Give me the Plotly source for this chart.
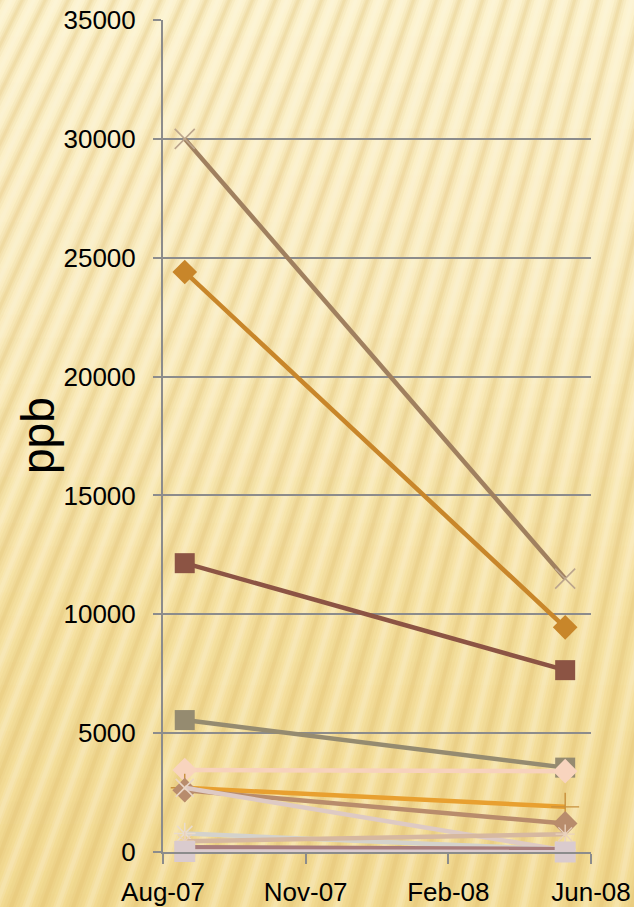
import plotly.graph_objects as go

# Sampling dates and concentrations (ppb)
dates = ["2007-08-17", "2008-05-23"]

s1 = [30000, 11500]
s2 = [24400, 9450]
s3 = [12150, 7650]
s4 = [5550, 3550]
s5 = [3450, 3400]
s6 = [2700, 1900]
s7 = [2600, 1200]
s8 = [2700, 60]
s9 = [780, 100]
s10 = [450, 750]
s11 = [200, 120]
s12 = [20, 0]

tick_dates = ["2007-08-01", "2007-11-14", "2008-02-27", "2008-06-11"]
y_ticks = [0, 5000, 10000, 15000, 20000, 25000, 30000, 35000]

W, H = 634, 907
ML, MR, MT, MB = 163, 43, 20, 55
PW, PH = W - ML - MR, H - MT - MB

series = [
    dict(y=s1, color="#A0805F", symbol="x-thin", msize=20, mcolor="#BCA58C", mline=1.6),
    dict(y=s2, color="#C8862A", symbol="diamond", msize=19, mcolor="#C8862A", mline=0),
    dict(y=s3, color="#8C5444", symbol="square", msize=20, mcolor="#8C5444", mline=0),
    dict(y=s4, color="#958B70", symbol="square", msize=20, mcolor="#958B70", mline=0),
    dict(y=s5, color="#F7D2BC", symbol="diamond", msize=19, mcolor="#F8D4BE", mline=0),
    dict(y=s6, color="#E8A030", symbol="cross-thin", msize=20, mcolor="#C8903C", mline=1.4),
    dict(y=s7, color="#B88C6C", symbol="diamond", msize=19, mcolor="#B88C6C", mline=0),
    dict(y=s8, color="#DECAC4", symbol="x-thin", msize=18, mcolor="#EAD6C6", mline=1.6),
    dict(y=s9, color="#D4D2CC", symbol="asterisk-open", msize=18, mcolor="#EADCCC", mline=1.6),
    dict(y=s10, color="#D6B8A0", symbol="asterisk-open", msize=16, mcolor="#EAD2BC", mline=1.4),
    dict(y=s11, color="#A87C7C", symbol="square", msize=10, mcolor="#A87C7C", mline=0),
    dict(y=s12, color="#DACBCE", symbol="square", msize=21, mcolor="#DACBCE", mline=0),
]

fig = go.Figure()
for i, s in enumerate(series):
    marker = dict(symbol=s["symbol"], size=s["msize"], color=s["mcolor"])
    if s["mline"]:
        marker["line"] = dict(color=s["mcolor"], width=s["mline"])
    fig.add_trace(go.Scatter(
        x=dates, y=s["y"], mode="lines+markers", name=f"Series {i + 1}",
        line=dict(color=s["color"], width=4.5), marker=marker,
        cliponaxis=False, showlegend=False, hoverinfo="x+y",
    ))


def to_paper(px, py):
    return (px - ML) / PW, (H - MB - py) / PH


shapes = []

# Vertical cream-to-gold gradient behind everything
stops = [(0, (252, 242, 206)), (300, (250, 236, 192)), (600, (246, 226, 164)), (907, (242, 218, 146))]


def grad(py):
    for (ya, ca), (yb, cb) in zip(stops, stops[1:]):
        if py <= yb:
            t = (py - ya) / (yb - ya)
            return tuple(round(a + (b - a) * t) for a, b in zip(ca, cb))
    return stops[-1][1]


bands = 40
step = (H + 20) / bands
for k in range(bands):
    y0 = -10 + k * step
    c = grad(max(0, min(H, y0 + step / 2)))
    x0p, y0p = to_paper(-10, y0)
    x1p, y1p = to_paper(W + 10, y0 + step + 1)
    shapes.append(dict(type="rect", xref="paper", yref="paper",
                       x0=x0p, x1=x1p, y0=y1p, y1=y0p,
                       fillcolor=f"rgb{c}", line=dict(width=0), layer="below"))

# Fan of soft diagonal rays
FX, FY = 1300.0, -2600.0
REF_Y = 450.0
period = 27.0


def ray(xa, xb, fill):
    pts = []
    for yy, (e1, e2) in ((-30.0, (xa, xb)), (H + 30.0, (xb, xa))):
        f = (yy - FY) / (REF_Y - FY)
        for e in (e1, e2):
            pts.append(to_paper(FX + (e - FX) * f, yy))
    d = "M " + " L ".join(f"{x:.4f},{y:.4f}" for x, y in pts) + " Z"
    return dict(type="path", xref="paper", yref="paper", path=d,
                fillcolor=fill, line=dict(width=0), layer="below")


xc = -280.0
while xc < 780:
    shapes.append(ray(xc - 7.0, xc + 7.0, "rgba(220,182,96,0.10)"))
    shapes.append(ray(xc - 4.0, xc + 4.0, "rgba(220,182,96,0.12)"))
    shapes.append(ray(xc - 1.8, xc + 1.8, "rgba(214,174,86,0.12)"))
    shapes.append(ray(xc + 9.5, xc + 17.5, "rgba(255,250,230,0.16)"))
    shapes.append(ray(xc + 11.5, xc + 15.5, "rgba(255,250,230,0.16)"))
    xc += period

grid_col = "#8C8C8C"

fig.update_layout(
    width=W, height=H,
    margin=dict(l=ML, r=MR, t=MT, b=MB, pad=0, autoexpand=False),
    paper_bgcolor="#F7E6B4",
    plot_bgcolor="rgba(0,0,0,0)",
    shapes=shapes,
    showlegend=False,
    font=dict(family="Liberation Sans, Arial, sans-serif", color="#000000"),
    xaxis=dict(
        type="date", automargin=False,
        range=[tick_dates[0], tick_dates[-1]],
        tickmode="array", tickvals=tick_dates, tickformat="%b-%y",
        showgrid=False, zeroline=False,
        showline=True, linecolor=grid_col, linewidth=2,
        ticks="outside", ticklen=10, tickwidth=2, tickcolor=grid_col,
        tickfont=dict(size=26, color="#000000"),
        ticklabelstandoff=6,
    ),
    yaxis=dict(
        range=[0, 35000], automargin=False,
        tickmode="array", tickvals=y_ticks, tickformat="d",
        showgrid=True, gridcolor=grid_col, gridwidth=2,
        zeroline=False,
        showline=True, linecolor=grid_col, linewidth=2,
        ticks="outside", ticklen=8, tickwidth=2, tickcolor=grid_col,
        tickfont=dict(size=26, color="#000000"),
        ticklabelstandoff=12,
    ),
    annotations=[dict(
        text="ppb", textangle=-90, showarrow=False,
        xref="paper", yref="paper",
        x=(38 - ML) / PW, y=0.5, xanchor="center", yanchor="middle",
        font=dict(size=46, color="#000000", family="Liberation Sans, Arial, sans-serif"),
    )],
)

fig.write_html("out.html")
